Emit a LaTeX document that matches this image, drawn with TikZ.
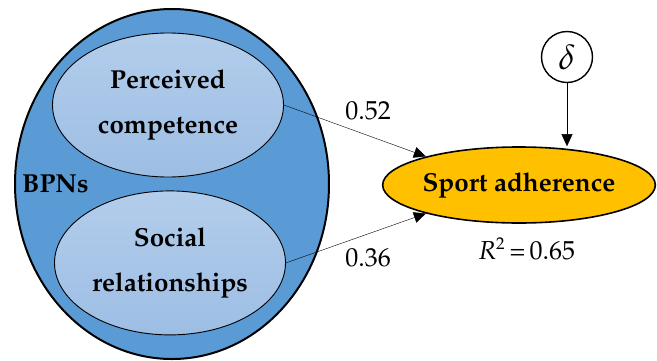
\documentclass[tikz,border=0pt]{standalone}
\usepackage[T1]{fontenc}
\usepackage{mathpazo}
\usepackage{amsmath}
\usetikzlibrary{shapes.geometric,arrows.meta,positioning}
\definecolor{outerblue}{HTML}{5B9BD5}
\definecolor{innertop}{HTML}{B3CDEB}
\definecolor{innerbot}{HTML}{9DBEE4}
\definecolor{adhgold}{HTML}{FFC000}
\tikzset{
    -{Triangle[length=12pt,width=11pt]},line width=1pt,
    latent/.style ={ellipse, draw, inner sep=0pt, align=center,
        font=\fontsize{26}{45}\selectfont\bfseries},
    need/.style ={latent, line width=0.9pt, minimum width=231, minimum height=144,
        top color=innertop, bottom color=innerbot},
    error/.style ={circle, draw, fill=white, line width=1.4pt, minimum size=51,
        inner sep=0pt, font=\fontsize{35}{35}\selectfont},
    coef/.style = {inner sep=2pt, font=\fontsize{26}{30}\selectfont}
}

\begin{document}
\begin{tikzpicture}[x=1pt,y=-1pt]
\useasboundingbox (0,0) rectangle (657,360);

% Nodes
\node[latent, fill=outerblue, line width=2pt, minimum width=314, minimum height=350] (bpn) at (172,184) {};
\node[need] (pc) at (168,105) {Perceived\\competence};
\node[need, below=13pt of pc, xshift=2pt] (sr) {Social\\relationships};
\node[right=8pt of bpn.west, inner sep=0pt, font=\fontsize{26}{30}\selectfont\bfseries] (bpnlab) {BPNs};
\node[latent, fill=adhgold, line width=1.6pt, minimum width=272, minimum height=76] (sa) at (519,185) {Sport adherence};
\node[error] (dl) at (567,57) {\raisebox{-4pt}{$\delta$}};

% Labels
\node[coef] (w1) at (368,111) {0.52};
\node[coef] (w2) at (368,258) {0.36};
\node[coef, below=12pt of sa, xshift=8pt] (r2) {\textit{R}\textsuperscript{\fontsize{17}{17}\selectfont 2}\,=\,0.65};

% Paths
\draw (pc.east) -- (sa.163);
\draw (sr.east) -- (sa.197);
\draw (dl.south) -- (dl.south |- sa.north);

\end{tikzpicture}
\end{document}
